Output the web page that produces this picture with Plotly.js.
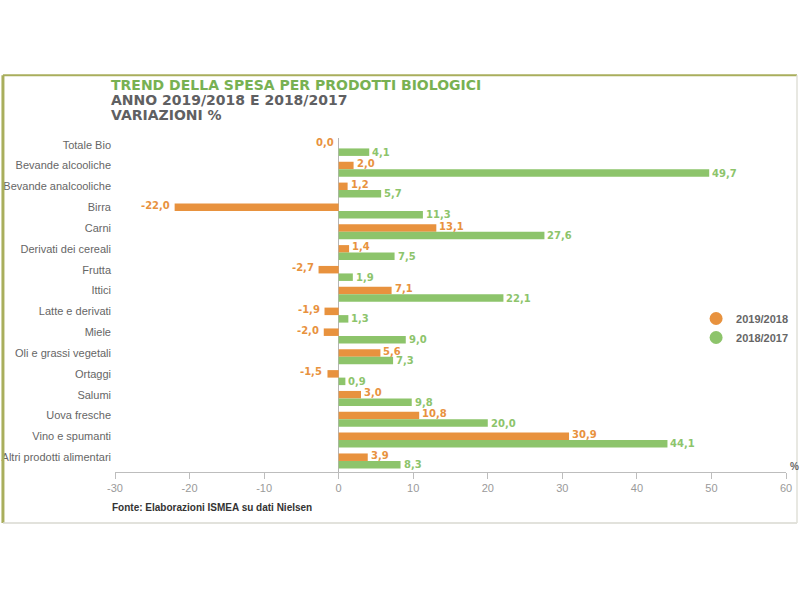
<!DOCTYPE html>
<html>
<head>
<meta charset="utf-8">
<script src="https://cdn.plot.ly/plotly-3.0.1.min.js"></script>
<style>
html,body{margin:0;padding:0;background:#fff;}
#chart{width:800px;height:600px;}
</style>
</head>
<body>
<div id="chart"></div>
<script>
const categories = ["Totale Bio","Bevande alcooliche","Bevande analcooliche","Birra","Carni","Derivati dei cereali","Frutta","Ittici","Latte e derivati","Miele","Oli e grassi vegetali","Ortaggi","Salumi","Uova fresche","Vino e spumanti","Altri prodotti alimentari"];
const var2019 = [0.0, 2.0, 1.2, -22.0, 13.1, 1.4, -2.7, 7.1, -1.9, -2.0, 5.6, -1.5, 3.0, 10.8, 30.9, 3.9];
const var2018 = [4.1, 49.7, 5.7, 11.3, 27.6, 7.5, 1.9, 22.1, 1.3, 9.0, 7.3, 0.9, 9.8, 20.0, 44.1, 8.3];
const seriesNames = ["2019/2018", "2018/2017"];
const xTicks = [-30, -20, -10, 0, 10, 20, 30, 40, 50, 60];

const ORANGE = "#E8923E";
const GREEN = "#8DC46B";
const GRAY = "#666666";
const BW = 0.36;

const idx = categories.map((c, i) => i);

const fmt = v => v.toFixed(1).replace(".", ",");

const traces = [
  {type: "bar", orientation: "h", y: idx, x: var2019, width: BW, offset: -BW,
   marker: {color: ORANGE}, showlegend: false, hoverinfo: "x"},
  {type: "bar", orientation: "h", y: idx, x: var2018, width: BW, offset: 0,
   marker: {color: GREEN}, showlegend: false, hoverinfo: "x"},
  {type: "scatter", mode: "markers", x: [null], y: [null], name: seriesNames[0],
   marker: {color: ORANGE, size: 13, symbol: "circle"}},
  {type: "scatter", mode: "markers", x: [null], y: [null], name: seriesNames[1],
   marker: {color: GREEN, size: 13, symbol: "circle"}}
];

const annotations = [];
function addLabels(vals, color, dy, ys) {
  vals.forEach((v, i) => {
    const pos = v > 0;
    annotations.push({
      x: v, y: i + dy, xref: "x", yref: "y",
      text: fmt(v), showarrow: false,
      xanchor: pos ? "left" : "right",
      xshift: pos ? 1 : -3, yshift: ys,
      font: {family: "DejaVu Sans", size: 10, color: color, weight: "bold"}
    });
  });
}
addLabels(var2019, ORANGE, -BW / 2, 2);
addLabels(var2018, GREEN, BW / 2, 0);

const titleFont = {family: "DejaVu Sans", size: 14, weight: "bold"};
annotations.push(
  {xref: "paper", yref: "paper", x: -0.009, y: 1.158, xanchor: "left", yanchor: "middle", showarrow: false,
   text: "TREND DELLA SPESA PER PRODOTTI BIOLOGICI", font: Object.assign({color: "#78B152"}, titleFont)},
  {xref: "paper", yref: "paper", x: -0.009, y: 1.114, xanchor: "left", yanchor: "middle", showarrow: false,
   text: "ANNO 2019/2018 E 2018/2017", font: Object.assign({color: "#5F6062"}, titleFont)},
  {xref: "paper", yref: "paper", x: -0.009, y: 1.069, xanchor: "left", yanchor: "middle", showarrow: false,
   text: "VARIAZIONI %", font: Object.assign({color: "#5F6062"}, titleFont)},
  {xref: "paper", yref: "paper", x: -0.008, y: -0.105, xanchor: "left", yanchor: "middle", showarrow: false,
   text: "Fonte: Elaborazioni ISMEA su dati Nielsen",
   font: {family: "Liberation Sans", size: 10, color: "#333333", weight: "bold"}},
  {xref: "paper", yref: "paper", x: 1.012, y: 0.016, xanchor: "center", yanchor: "middle", showarrow: false,
   text: "%", font: {family: "Liberation Sans", size: 10, color: "#666666", weight: "bold"}}
);

const RX = (797 - 115) / 671;
const shapes = [
  {type: "line", xref: "paper", yref: "paper", x0: -0.167, x1: RX, y0: 1.188, y1: 1.188,
   line: {color: "#A9AE5C", width: 2}},
  {type: "line", xref: "paper", yref: "paper", x0: -0.167, x1: -0.167, y0: 1.188, y1: -0.153,
   line: {color: "#A9AE5C", width: 3}},
  {type: "line", xref: "paper", yref: "paper", x0: -0.167, x1: RX, y0: -0.153, y1: -0.153,
   line: {color: "#D8D8D0", width: 1.5}},
  {type: "line", xref: "paper", yref: "paper", x0: RX, x1: RX, y0: 1.188, y1: -0.153,
   line: {color: "#E0E0D8", width: 1.5}}
];

const layout = {
  width: 800, height: 600,
  margin: {l: 115, r: 14, t: 138, b: 128, autoexpand: false},
  paper_bgcolor: "#ffffff", plot_bgcolor: "#ffffff",
  separators: ",.",
  showlegend: true,
  legend: {x: 0.866, y: 0.503, xanchor: "left", yanchor: "top",
           font: {family: "Liberation Sans", size: 11, color: "#666666", weight: "bold"},
           bgcolor: "rgba(0,0,0,0)", tracegroupgap: 0},
  xaxis: {range: [-30, 60], tickvals: xTicks, ticktext: xTicks.map(String),
          showgrid: false, zeroline: true, zerolinecolor: "#B5B5B5", zerolinewidth: 1,
          showline: true, linecolor: "#BDBDBD", linewidth: 1,
          ticks: "outside", ticklen: 6, tickcolor: "#BDBDBD", tickwidth: 1,
          tickfont: {family: "Liberation Sans", size: 11, color: "#9A9A9A"}, fixedrange: true},
  yaxis: {range: [15.53, -0.5], tickvals: idx.map(i => i - BW / 2), ticktext: categories,
          showgrid: false, zeroline: false, showline: false, ticks: "",
          ticklabelstandoff: 3,
          tickfont: {family: "Liberation Sans", size: 11, color: GRAY}, fixedrange: true},
  annotations: annotations,
  shapes: shapes
};

Plotly.newPlot("chart", traces, layout, {staticPlot: true, displayModeBar: false});
</script>
</body>
</html>
